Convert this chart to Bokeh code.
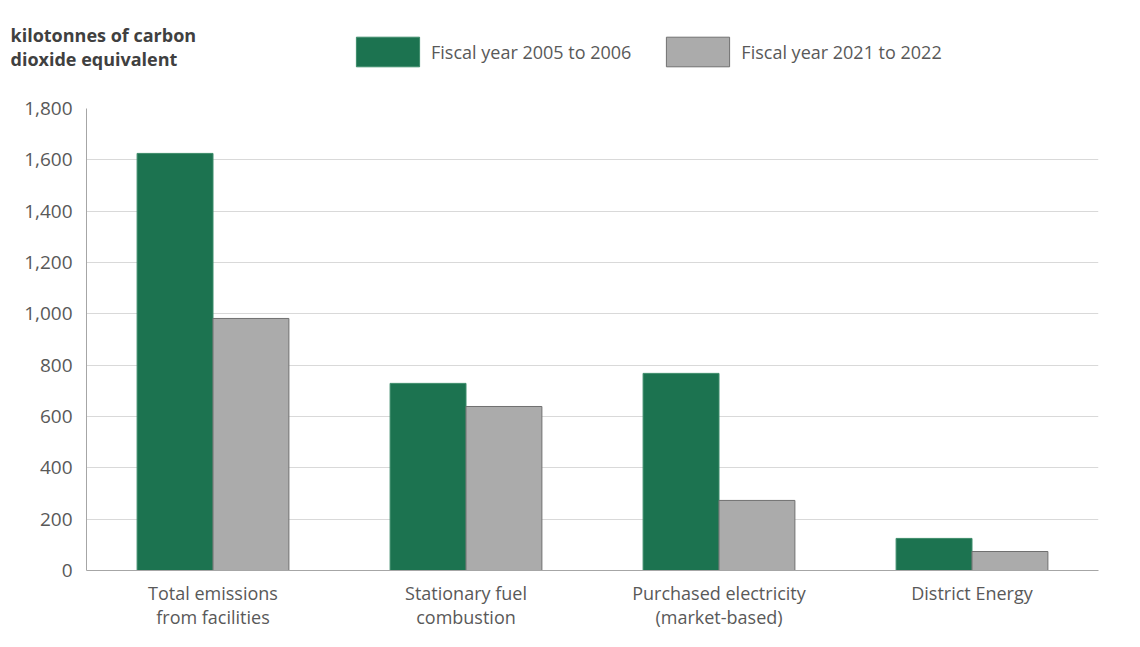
from bokeh.plotting import figure
from bokeh.models import ColumnDataSource, FactorRange, Range1d, NumeralTickFormatter, Label, Legend, LegendItem, SingleIntervalTicker
from bokeh.transform import dodge
from bokeh.embed import file_html
from bokeh.resources import INLINE

categories = ["Total emissions\nfrom facilities", "Stationary fuel\ncombustion",
              "Purchased electricity\n(market-based)", "District Energy"]
fy2005 = [1625, 729, 768, 125]
fy2021 = [982, 639, 273, 74]
series_names = ["Fiscal year 2005 to 2006", "Fiscal year 2021 to 2022"]
title_text = "kilotonnes of carbon\ndioxide equivalent"

FONT = "Open Sans"
TXT = "#595959"
GREEN = dict(fill_color="#1c7350", line_color="#3d8c6a", line_width=1)
GRAY = dict(fill_color="#ababab", line_color="#707070", line_width=1)

W = 1120
HEAD_H = 96

# ---------- header: title + legend ----------
head = figure(width=W, height=HEAD_H, x_range=Range1d(0, W), y_range=Range1d(0, HEAD_H),
              x_axis_type=None, y_axis_type=None, output_backend="svg", toolbar_location=None,
              min_border=0)
head.outline_line_color = None
head.xgrid.visible = False
head.ygrid.visible = False
hsrc = ColumnDataSource(dict(i=list(range(len(categories))), a=fy2005, b=fy2021))
h1 = head.vbar(x="i", top="a", width=0.3, source=hsrc, visible=False, **GREEN)
h2 = head.vbar(x="i", top="b", width=0.3, source=hsrc, visible=False, **GRAY)
head.add_layout(Label(x=10, y=HEAD_H - 22, x_units="screen", y_units="screen", text=title_text,
                      text_font=FONT, text_font_size="18px", text_font_style="bold",
                      text_color="#404040", text_baseline="top", text_align="left",
                      text_line_height=1.0))
legend = Legend(items=[LegendItem(label=series_names[0], renderers=[h1]),
                       LegendItem(label=series_names[1], renderers=[h2])],
                orientation="horizontal", location=(348, HEAD_H - 70),
                glyph_width=79, glyph_height=37, label_standoff=4, spacing=27,
                padding=0, margin=0, border_line_color=None, background_fill_alpha=0,
                inactive_fill_alpha=0,
                label_text_font=FONT, label_text_font_size="18px", label_text_color=TXT)
head.add_layout(legend, "center")

# ---------- main chart ----------
src = ColumnDataSource(dict(cat=categories, a=fy2005, b=fy2021))
p = figure(x_range=FactorRange(factors=categories, range_padding=0),
           y_range=Range1d(0, 1800), width=W, height=12 + 462 + 72,
           output_backend="svg", toolbar_location=None,
           min_border_left=86, min_border_right=W - 1098, min_border_top=12, min_border_bottom=72)
p.outline_line_color = None

p.vbar(x=dodge("cat", -0.15, range=p.x_range), top="a", width=0.3, source=src, **GREEN)
p.vbar(x=dodge("cat", 0.15, range=p.x_range), top="b", width=0.3, source=src, **GRAY)

p.yaxis.ticker = SingleIntervalTicker(interval=200)
p.yaxis.formatter = NumeralTickFormatter(format="0,0")
p.yaxis.major_tick_line_color = None
p.yaxis.minor_tick_line_color = None
p.yaxis.axis_line_color = "#a6a6a6"
p.yaxis.major_label_text_font = FONT
p.yaxis.major_label_text_font_size = "19px"
p.yaxis.major_label_text_color = TXT
p.yaxis.major_label_standoff = 8

p.xaxis.major_tick_line_color = None
p.xaxis.minor_tick_line_color = None
p.xaxis.axis_line_color = "#a6a6a6"
p.xaxis.major_label_text_font = FONT
p.xaxis.major_label_text_font_size = "18px"
p.xaxis.major_label_text_color = TXT
p.xaxis.major_label_standoff = 4
p.xaxis.major_label_text_line_height = 1.0

p.xgrid.grid_line_color = None
p.ygrid.grid_line_color = "#d9d9d9"
p.ygrid.grid_line_width = 1

open("out.html", "w").write(file_html([head, p], INLINE))
